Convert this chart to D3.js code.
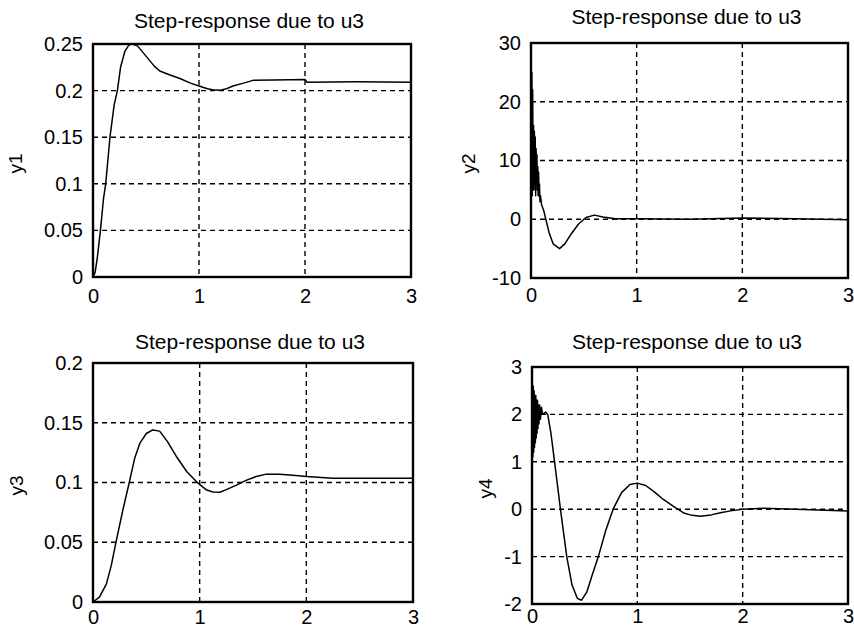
<!DOCTYPE html>
<html>
<head>
<meta charset="utf-8">
<script src="https://cdn.jsdelivr.net/npm/d3@7"></script>
<style>
  body { margin: 0; background: #fff; }
  svg { display: block; font-family: "Liberation Sans", Arial, sans-serif; }
  .grid line { stroke: #000; stroke-width: 1.4; stroke-dasharray: 5 4; }
  .tick text { fill: #000; }
</style>
</head>
<body>
<div id="chart"></div>
<script>
// Step responses due to u3: [t, value]
const y1Data = [
  [0, 0], [0.02, 0.005], [0.04, 0.02], [0.07, 0.05], [0.10, 0.085], [0.12, 0.10],
  [0.14, 0.125], [0.16, 0.15], [0.20, 0.185], [0.23, 0.20], [0.26, 0.225], [0.30, 0.242],
  [0.34, 0.249], [0.37, 0.25], [0.42, 0.248], [0.50, 0.237], [0.58, 0.226], [0.63, 0.221],
  [0.72, 0.217], [0.82, 0.213], [0.92, 0.208], [1.0, 0.205], [1.08, 0.202], [1.13, 0.201],
  [1.2, 0.2005], [1.26, 0.202], [1.32, 0.205], [1.42, 0.208], [1.51, 0.211], [1.7, 0.2115],
  [2.0, 0.212], [2.02, 0.209], [2.5, 0.2095], [3.0, 0.209]
];

const y2Data = [
  [0, 26], [0.004, 5], [0.008, 25], [0.012, 4], [0.016, 22], [0.02, 5], [0.024, 16],
  [0.028, 5], [0.032, 15], [0.036, 6], [0.040, 14], [0.044, 4], [0.048, 12], [0.052, 6],
  [0.056, 11], [0.06, 5], [0.064, 9], [0.068, 4], [0.072, 8], [0.076, 4], [0.08, 6],
  [0.085, 3], [0.09, 4], [0.10, 2.5], [0.12, 1.5], [0.14, 0], [0.17, -2.2], [0.21, -4.2],
  [0.27, -5.0], [0.32, -4.2], [0.38, -2.5], [0.45, -0.8], [0.52, 0.3], [0.6, 0.7],
  [0.68, 0.4], [0.8, 0.1], [1.0, 0.1], [1.5, 0.0], [2.0, 0.2], [2.5, 0.1], [3.0, -0.1]
];

const y3Data = [
  [0, 0], [0.06, 0.004], [0.125, 0.015], [0.17, 0.03], [0.22, 0.052], [0.28, 0.077],
  [0.34, 0.10], [0.39, 0.12], [0.44, 0.133], [0.50, 0.141], [0.56, 0.144], [0.625, 0.143],
  [0.70, 0.134], [0.78, 0.122], [0.88, 0.109], [0.99, 0.099], [1.06, 0.094], [1.125, 0.092],
  [1.19, 0.0918], [1.25, 0.094], [1.35, 0.098], [1.44, 0.102], [1.53, 0.105], [1.625, 0.107],
  [1.75, 0.107], [1.875, 0.106], [2.0, 0.105], [2.25, 0.1035], [3.0, 0.1035]
];

const y4Data = [
  [0, 1.0], [0.004, 2.5], [0.008, 1.1], [0.012, 2.6], [0.016, 1.2], [0.02, 2.5],
  [0.024, 1.3], [0.028, 2.4], [0.032, 1.4], [0.036, 2.4], [0.04, 1.5], [0.044, 2.3],
  [0.048, 1.6], [0.052, 2.3], [0.056, 1.7], [0.06, 2.2], [0.066, 1.8], [0.072, 2.2],
  [0.08, 1.9], [0.09, 2.15], [0.1, 2.0], [0.13, 2.05], [0.15, 1.99], [0.18, 1.6],
  [0.22, 0.9], [0.27, 0.0], [0.33, -1.0], [0.38, -1.6], [0.43, -1.88], [0.47, -1.92],
  [0.52, -1.75], [0.57, -1.4], [0.63, -1.0], [0.70, -0.45], [0.77, 0.0], [0.85, 0.35],
  [0.93, 0.52], [1.0, 0.55], [1.08, 0.5], [1.17, 0.35], [1.25, 0.2], [1.35, 0.05],
  [1.44, -0.08], [1.52, -0.13], [1.6, -0.15], [1.7, -0.12], [1.8, -0.07], [1.9, -0.03],
  [2.0, 0.0], [2.2, 0.02], [2.5, 0.0], [3.0, -0.04]
];

const xTicks = [0, 1, 2, 3];
const title = 'Step-response due to u3';

const panels = [
  { data: y1Data, label: 'y1', yDomain: [0, 0.25], yTicks: [0, 0.05, 0.1, 0.15, 0.2, 0.25],
    box: { x0: 93, x1: 411, y0: 44, y1: 277 }, labelX: 22, titleY: 28, xPad: 12 },
  { data: y2Data, label: 'y2', yDomain: [-10, 30], yTicks: [-10, 0, 10, 20, 30],
    box: { x0: 531, x1: 848, y0: 43, y1: 278 }, labelX: 475, titleY: 24, xPad: 10 },
  { data: y3Data, label: 'y3', yDomain: [0, 0.2], yTicks: [0, 0.05, 0.1, 0.15, 0.2],
    box: { x0: 93, x1: 413, y0: 363, y1: 602 }, labelX: 23, titleY: 349, xPad: 8 },
  { data: y4Data, label: 'y4', yDomain: [-2, 3], yTicks: [-2, -1, 0, 1, 2, 3],
    box: { x0: 532, x1: 848, y0: 367, y1: 604 }, labelX: 492, titleY: 349, xPad: 5 }
];

const svg = d3.select('#chart').append('svg')
  .attr('width', 854)
  .attr('height', 636);

panels.forEach(p => {
  const b = p.box;
  const x = d3.scaleLinear().domain([0, 3]).range([b.x0, b.x1]);
  const y = d3.scaleLinear().domain(p.yDomain).range([b.y1, b.y0]);
  const g = svg.append('g');

  // dashed grid
  const grid = g.append('g').attr('class', 'grid');
  grid.selectAll('.gx').data(xTicks.slice(1, -1)).join('line')
    .attr('x1', d => x(d)).attr('x2', d => x(d))
    .attr('y1', b.y0).attr('y2', b.y1);
  grid.selectAll('.gy').data(p.yTicks.slice(1, -1)).join('line')
    .attr('x1', b.x0).attr('x2', b.x1)
    .attr('y1', d => y(d)).attr('y2', d => y(d));

  // response curve
  g.append('path')
    .datum(p.data)
    .attr('fill', 'none')
    .attr('stroke', '#000')
    .attr('stroke-width', 1.5)
    .attr('stroke-linejoin', 'round')
    .attr('d', d3.line().x(d => x(d[0])).y(d => y(d[1])));

  // frame
  g.append('rect')
    .attr('x', b.x0).attr('y', b.y0)
    .attr('width', b.x1 - b.x0).attr('height', b.y1 - b.y0)
    .attr('fill', 'none').attr('stroke', '#000').attr('stroke-width', 2.4);

  // axes
  g.append('g')
    .attr('transform', `translate(0,${b.y1})`)
    .call(d3.axisBottom(x).tickValues(xTicks).tickSize(0).tickPadding(p.xPad).tickFormat(d3.format('d')))
    .call(ax => ax.select('.domain').remove())
    .call(ax => ax.selectAll('text').attr('font-size', 20).attr('font-family', '"Liberation Sans", Arial, sans-serif'));

  g.append('g')
    .attr('transform', `translate(${b.x0},0)`)
    .call(d3.axisLeft(y).tickValues(p.yTicks).tickSize(0).tickPadding(10).tickFormat(d => String(d)))
    .call(ax => ax.select('.domain').remove())
    .call(ax => ax.selectAll('text').attr('font-size', 20).attr('font-family', '"Liberation Sans", Arial, sans-serif'));

  // title
  g.append('text')
    .attr('x', (b.x0 + b.x1) / 2 - 3)
    .attr('y', p.titleY)
    .attr('text-anchor', 'middle')
    .attr('font-size', 21)
    .text(title);

  // y label
  g.append('text')
    .attr('transform', `translate(${p.labelX},${(b.y0 + b.y1) / 2 + 3}) rotate(-90)`)
    .attr('text-anchor', 'middle')
    .attr('font-size', 19)
    .text(p.label);
});
</script>
</body>
</html>
